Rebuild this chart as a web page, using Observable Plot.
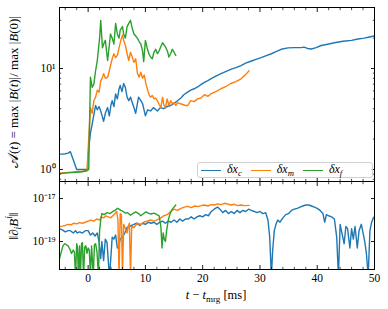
<!DOCTYPE html>
<html><head><meta charset="utf-8">
<script src="https://cdn.jsdelivr.net/npm/d3@7"></script>
<script src="https://cdn.jsdelivr.net/npm/@observablehq/plot@0.6"></script>
<style>
body{margin:0;background:#fff;}
#wrap{position:relative;width:388px;height:309px;font-family:"Liberation Serif",serif;color:#000;background:#fff;overflow:hidden;}
#wrap svg{position:absolute;left:0;}
.lab{position:absolute;white-space:nowrap;font-size:12.5px;line-height:1;}
.big{font-size:13px;}
.rot{transform:translate(-50%,-50%) rotate(-90deg);}
.ctr{transform:translate(-50%,-50%);}
sub,sup{font-size:72%;line-height:0;}
.cal{font-size:115%;}
#legend{position:absolute;left:197px;top:162px;width:174px;height:14px;border:1px solid #d0d0d0;border-radius:3px;background:rgba(255,255,255,0.85);display:flex;align-items:center;font-size:12px;}
#legend .it{display:flex;align-items:center;margin-left:3px;margin-right:6px;}
#legend .sw{display:inline-block;width:20px;height:0;border-top:1.5px solid;margin-right:6px;}
#legend .tx{line-height:1;position:relative;top:-1px;}
</style></head><body><div id="wrap"></div>
<script>
// ---- data ----
const seriesNames = ["δx_c", "δx_m", "δx_f"];
const seriesColors = ["#1f77b4", "#ff7f0e", "#2ca02c"];

// top panel: A(t) = max|B(t)| / max|B(0)|
const ampC = [[-5,1.42],[-4.5,1.42],[-4,1.43],[-3.5,1.45],[-3.1,1.5],[-2.6,1.25],[-2.0,1.0],[-1.5,1.0],[-1.0,1.0],[-0.5,1.0],[-0.1,1.0],[0.1,1.6],[0.4,2.3],[0.7,2.8],[1.0,3.5],[1.3,4.3],[1.6,3.9],[1.9,4.2],[2.2,3.8],[2.5,3.3],[2.7,3.0],[3.0,3.6],[3.4,4.1],[3.7,3.4],[4.0,4.4],[4.2,4.8],[4.5,4.2],[4.8,5.6],[5.1,5.0],[5.4,6.3],[5.6,6.8],[5.9,5.9],[6.2,7.1],[6.5,6.5],[6.8,5.2],[7.1,4.8],[7.4,5.2],[7.7,4.6],[8.0,4.1],[8.3,3.6],[8.8,5.2],[9.2,4.8],[9.5,4.5],[10.0,3.4],[10.4,3.9],[10.9,3.8],[11.4,4.1],[12.1,3.8],[12.6,4.1],[13.2,4.0],[13.8,4.2],[14.4,4.3],[15.0,4.5],[15.6,4.8],[16.2,5.1],[16.7,5.5],[17.3,5.8],[17.9,6.1],[18.5,6.3],[19.2,6.6],[19.8,7.0],[20.3,7.3],[20.9,7.6],[21.4,7.9],[22.3,8.4],[23.2,8.9],[24.0,9.3],[24.9,9.8],[25.8,10.2],[26.7,10.7],[27.5,11.3],[28.4,11.8],[29.3,12.3],[30.2,12.8],[31.1,13.4],[32.0,14.0],[32.8,14.7],[33.7,15.5],[34.9,16.0],[36.0,16.1],[37.2,16.1],[37.7,16.3],[38.3,15.8],[39.0,15.6],[39.8,16.1],[40.7,16.9],[41.8,17.4],[43.0,18.0],[44.5,18.6],[46.0,19.0],[47.1,19.6],[48.2,20.0],[49.1,20.5],[50.0,21.0]];
const ampM = [[-5,0.92],[-4,0.93],[-3,0.94],[-2,0.95],[-1,0.96],[-0.2,0.98],[0.1,2.0],[0.4,4.1],[0.7,3.6],[1.0,4.8],[1.3,5.2],[1.6,6.1],[1.9,5.8],[2.2,7.5],[2.5,8.2],[2.7,8.9],[3.0,8.0],[3.4,8.2],[3.7,9.5],[3.9,10.7],[4.2,12.5],[4.5,14.0],[4.8,12.8],[5.1,13.5],[5.4,16.0],[5.7,19.0],[6.0,21.5],[6.2,19.0],[6.5,17.0],[6.8,14.0],[7.1,12.0],[7.4,14.5],[7.7,13.0],[8.0,11.5],[8.3,12.5],[8.6,9.0],[8.9,8.2],[9.2,9.2],[9.5,8.0],[9.8,8.6],[10.1,7.0],[10.4,6.1],[10.7,5.4],[10.9,5.2],[11.2,5.4],[11.5,5.0],[11.8,5.1],[12.1,4.8],[12.4,4.4],[12.7,4.1],[13.0,5.2],[13.2,4.4],[13.5,4.1],[13.8,5.0],[14.1,4.3],[14.4,4.8],[14.7,4.5],[15.0,4.6],[15.3,4.3],[15.6,4.6],[16.0,4.5],[16.5,4.4],[17.0,4.3],[17.4,4.3],[17.9,4.8],[18.5,4.7],[19.1,5.0],[19.7,5.1],[20.3,5.5],[20.9,5.3],[21.4,5.6],[22.3,5.9],[23.2,6.3],[24.0,6.6],[24.9,7.1],[25.8,7.4],[26.7,7.9],[27.4,8.6],[28.1,9.5]];
const ampF = [[-5,0.91],[-4,0.92],[-3,0.93],[-2,0.94],[-1,0.95],[-0.2,0.97],[0.1,1.0],[0.4,8.2],[0.7,6.5],[1.0,7.0],[1.3,9.5],[1.6,12.0],[1.8,15.5],[2.0,20.0],[2.2,30.0],[2.5,16.0],[2.8,18.0],[3.0,19.0],[3.4,12.0],[3.7,17.0],[3.9,22.0],[4.2,20.0],[4.5,17.5],[4.8,28.0],[5.1,22.0],[5.4,20.0],[5.6,24.0],[6.0,26.0],[6.2,22.0],[6.5,20.0],[6.8,26.0],[7.1,28.0],[7.4,30.0],[7.7,25.0],[8.0,22.0],[8.3,21.0],[8.6,20.0],[8.9,18.5],[9.2,17.4],[9.5,15.0],[9.7,11.7],[10.0,19.0],[10.3,16.0],[10.6,14.0],[10.9,13.0],[11.2,12.5],[11.5,14.5],[11.8,15.5],[12.1,14.0],[12.4,15.0],[12.7,16.5],[13.0,18.0],[13.3,17.0],[13.6,16.0],[13.9,14.5],[14.1,13.0],[14.4,14.0],[14.7,15.5],[15.0,14.5],[15.3,13.5]];

// bottom panel: ||∂_i B^i||
const divC = [[-5,4.0e-19],[-4.5,3.5e-19],[-4,2.8e-19],[-3.5,3.2e-19],[-3.1,3.2e-19],[-2.6,2.5e-19],[-2.2,3.2e-19],[-1.9,2.5e-19],[-1.5,2.8e-19],[-1.0,2.5e-19],[-0.5,3.2e-19],[0,3.2e-19],[0.4,2.0e-19],[0.8,2.5e-19],[1.2,1.8e-19],[1.6,2.5e-19],[1.9,1.0e-19],[2.2,1.6e-20],[2.4,1.0e-19],[2.7,1.3e-20],[3.0,1.3e-19],[3.3,8.9e-20],[3.7,2.5e-21],[3.9,1.0e-20],[4.2,1.6e-19],[4.5,1.3e-19],[4.8,2.0e-19],[5.1,5.0e-20],[5.3,5.6e-20],[5.6,1.3e-19],[6.0,1.6e-19],[6.4,2.5e-19],[6.8,4.5e-19],[7.2,5.0e-19],[7.6,5.6e-19],[8.0,6.3e-19],[8.5,7.1e-19],[9.0,5.6e-19],[9.5,7.1e-19],[10.0,6.3e-19],[10.5,7.9e-19],[11.0,7.1e-19],[11.5,7.9e-19],[12.0,6.3e-19],[12.5,7.9e-19],[13.0,8.9e-19],[13.5,7.1e-19],[14.0,8.9e-19],[14.5,7.9e-19],[15.0,1.0e-18],[15.5,7.9e-19],[16.0,1.12e-18],[16.5,8.9e-19],[17.0,1.12e-18],[17.5,1.12e-18],[18.0,1.41e-18],[18.5,1.12e-18],[19.0,1.41e-18],[19.5,1.58e-18],[20.0,1.41e-18],[20.5,1.78e-18],[21.0,1.58e-18],[21.5,2.5e-18],[22.0,3.2e-18],[22.6,4.0e-18],[23.0,3.2e-18],[23.5,2.2e-18],[24.0,2.8e-18],[24.5,2.0e-18],[25.0,2.5e-18],[25.5,2.0e-18],[26.0,2.8e-18],[26.5,2.2e-18],[27.0,2.8e-18],[27.5,2.5e-18],[28.0,3.2e-18],[28.5,2.8e-18],[29.0,2.5e-18],[29.5,2.2e-18],[30.0,2.5e-18],[30.5,2.0e-18],[31.0,2.2e-18],[31.4,1.0e-18],[31.7,1.6e-19],[32.0,2.5e-21],[32.2,3.2e-20],[32.5,3.2e-19],[32.8,6.3e-19],[33.1,1.0e-18],[33.5,7.9e-19],[34.0,1.26e-18],[34.5,1.78e-18],[35.0,2.0e-18],[35.5,2.8e-18],[36.0,3.2e-18],[36.5,3.5e-18],[37.0,4.0e-18],[37.5,4.5e-18],[38.0,5.0e-18],[38.5,5.0e-18],[39.0,4.5e-18],[39.5,4.0e-18],[40.0,3.5e-18],[40.5,2.8e-18],[41.0,2.0e-18],[41.3,7.9e-19],[41.6,1.78e-18],[42.0,1.58e-18],[42.5,1.41e-18],[43.0,1.12e-18],[43.4,1.6e-19],[43.7,2.5e-21],[44.0,6.3e-19],[44.3,2.5e-19],[44.7,7.9e-20],[45.0,5.0e-19],[45.3,4.0e-19],[45.7,5.0e-20],[46.0,4.0e-19],[46.3,1.3e-19],[46.6,5.0e-19],[47.0,5.0e-20],[47.3,3.2e-19],[47.7,6.3e-19],[48.0,2.5e-19],[48.3,1.0e-19],[48.6,2.5e-20],[48.9,2.5e-21],[49.2,3.2e-19],[49.5,7.9e-19],[49.8,1.26e-18],[50.0,1.41e-18]];
const divM = [[-5,5.0e-19],[-4.5,5.2e-19],[-4,5.6e-19],[-3.5,6.3e-19],[-3,6.0e-19],[-2.5,7.1e-19],[-2,6.6e-19],[-1.5,7.6e-19],[-1,7.1e-19],[-0.5,7.9e-19],[0,8.9e-19],[0.5,1.0e-18],[1.0,8.9e-19],[1.5,1.12e-18],[2.0,1.0e-18],[2.3,1.41e-18],[2.7,1.26e-18],[3.1,1.58e-18],[3.5,1.41e-18],[3.9,1.26e-18],[4.3,1.58e-18],[4.7,2.0e-18],[5.0,2.5e-18],[5.2,1.0e-18],[5.4,2.5e-21],[5.6,2.0e-18],[5.8,1.78e-18],[6.0,2.5e-21],[6.2,6.3e-19],[6.5,4.0e-19],[6.8,2.5e-19],[7.0,5.0e-19],[7.2,7.1e-19],[7.4,2.5e-21],[7.6,5.0e-19],[8.0,4.5e-19],[8.6,7.1e-19],[9.2,6.3e-19],[9.7,7.9e-19],[10.3,8.9e-19],[10.9,1.0e-18],[11.5,8.9e-19],[12.1,1.05e-18],[12.7,1.26e-18],[13.2,1.58e-18],[13.8,1.78e-18],[14.4,2.5e-18],[15.0,3.2e-18],[15.6,2.8e-18],[16.2,3.5e-18],[16.8,4.0e-18],[17.4,4.3e-18],[18.0,3.8e-18],[18.6,4.5e-18],[19.2,4.2e-18],[19.7,4.7e-18],[20.3,5.0e-18],[20.9,4.5e-18],[21.5,5.2e-18],[22.0,5.0e-18],[22.6,5.6e-18],[23.2,5.2e-18],[23.8,6.0e-18],[24.3,5.6e-18],[24.9,5.0e-18],[25.5,5.4e-18],[26.1,4.7e-18],[26.7,5.0e-18],[27.3,4.7e-18],[28.1,4.8e-18]];
const divF = [[-5,1.6e-20],[-4.7,3.2e-20],[-4.4,6.3e-20],[-4.1,7.9e-20],[-3.8,7.1e-20],[-3.5,6.3e-20],[-3.2,4.5e-20],[-2.9,2.8e-20],[-2.6,4.0e-20],[-2.4,3.2e-20],[-2.2,2.5e-21],[-2.0,7.9e-20],[-1.85,5.0e-20],[-1.7,2.5e-21],[-1.5,6.3e-20],[-1.35,2.5e-21],[-1.15,7.9e-20],[-1.0,8.9e-20],[-0.8,2.5e-21],[-0.6,5.6e-20],[-0.4,6.3e-20],[-0.2,2.8e-20],[0.0,5.0e-20],[0.2,4.0e-20],[0.4,2.5e-21],[0.6,6.3e-20],[0.9,2.5e-21],[1.1,7.1e-20],[1.3,7.9e-20],[1.55,3.2e-20],[1.8,2.5e-21],[2.0,3.2e-19],[2.2,1.0e-18],[2.4,2.0e-18],[2.8,1.78e-18],[3.3,2.2e-18],[3.8,2.0e-18],[4.3,2.5e-18],[4.7,2.8e-18],[5.1,3.5e-18],[5.4,3.2e-18],[5.7,2.8e-18],[6.1,2.5e-18],[6.5,2.1e-18],[6.9,2.2e-18],[7.4,1.66e-18],[7.8,2.0e-18],[8.3,2.4e-18],[8.8,2.0e-18],[9.2,1.58e-18],[9.7,2.0e-18],[10.1,2.4e-18],[10.5,2.1e-18],[11.0,1.9e-18],[11.5,2.1e-18],[12.0,1.78e-18],[12.4,1.58e-18],[12.7,5.0e-19],[12.9,5.0e-20],[13.1,2.5e-19],[13.3,1.26e-19],[13.5,1.0e-19],[13.7,3.2e-19],[14.0,1.0e-18],[14.3,2.0e-18],[14.7,3.2e-18],[15.0,4.0e-18],[15.3,5.0e-18]];

// ticks
const xDomain = [-5, 50];
const xMajor = [0, 10, 20, 30, 40, 50];
const xMajorLabels = ["0", "10", "20", "30", "40", "50"];
const xMinor = [-4, -2, 2, 4, 6, 8, 12, 14, 16, 18, 22, 24, 26, 28, 32, 34, 36, 38, 42, 44, 46, 48];
const topDomain = [0.76, 40.2];
const topMajor = [1, 10];
const topMajorLabels = ["10⁰", "10¹"];
const topMinor = [0.8, 0.9, 2, 3, 4, 5, 6, 7, 8, 9, 20, 30];
const botDomain = [5.0e-21, 6.2e-17];
const botMajor = [1e-19, 1e-17];
const botMajorLabels = ["10⁻¹⁹", "10⁻¹⁷"];

// ---- drawing ----
const W = 388, ML = 59, MR = 14;
const K = "black";
function inTicksX(ticks, size, sw) {
  return [
    Plot.axisX(ticks, {anchor: "bottom", tickSize: size, dy: -size, fill: "none", label: null, stroke: K, strokeWidth: sw}),
    Plot.axisX(ticks, {anchor: "top", tickSize: size, dy: size, fill: "none", label: null, stroke: K, strokeWidth: sw})
  ];
}
function inTicksY(ticks, size, sw) {
  return [
    Plot.axisY(ticks, {anchor: "left", tickSize: size, dx: size, fill: "none", label: null, stroke: K, strokeWidth: sw}),
    Plot.axisY(ticks, {anchor: "right", tickSize: size, dx: -size, fill: "none", label: null, stroke: K, strokeWidth: sw})
  ];
}
function seriesLines(sets) {
  return sets.map((d, i) => Plot.line(d, {x: p => p[0], y: p => p[1], stroke: seriesColors[i], strokeWidth: 1.4, clip: true}));
}
const st = {background: "transparent", fontFamily: "Liberation Serif", fontSize: "11.5px", color: "black"};

const topPlot = Plot.plot({
  width: W, height: 182,
  marginLeft: ML, marginRight: MR, marginTop: 7, marginBottom: 1,
  style: st,
  x: {domain: xDomain},
  y: {type: "log", domain: topDomain},
  marks: [
    ...seriesLines([ampC, ampM, ampF]),
    ...inTicksX(xMajor, 4, 0.9),
    ...inTicksX(xMinor, 2.2, 0.7),
    ...inTicksY(topMajor, 4, 0.9),
    ...inTicksY(topMinor, 2.2, 0.7),
    Plot.axisY(topMajor, {anchor: "left", tickSize: 0, tickPadding: 4, label: null, fill: K, tickFormat: d => topMajorLabels[topMajor.indexOf(d)]}),
    Plot.frame({stroke: K, strokeWidth: 1})
  ]
});

const botPlot = Plot.plot({
  width: W, height: 133,
  marginLeft: ML, marginRight: MR, marginTop: 5, marginBottom: 40,
  style: st,
  x: {domain: xDomain},
  y: {type: "log", domain: botDomain},
  marks: [
    ...seriesLines([divC, divM, divF]),
    ...inTicksX(xMajor, 4, 0.9),
    ...inTicksX(xMinor, 2.2, 0.7),
    ...inTicksY(botMajor, 4, 0.9),
    Plot.axisY(botMajor, {anchor: "left", tickSize: 0, tickPadding: 4, label: null, fill: K, tickFormat: d => botMajorLabels[botMajor.indexOf(d)]}),
    Plot.axisX(xMajor, {anchor: "bottom", tickSize: 0, tickPadding: 4, label: null, fill: K, tickFormat: d => xMajorLabels[xMajor.indexOf(d)]}),
    Plot.frame({stroke: K, strokeWidth: 1})
  ]
});

const wrap = document.getElementById("wrap");
botPlot.style.top = "176px";
topPlot.style.top = "0px";
wrap.appendChild(botPlot);
wrap.appendChild(topPlot);

function addLabel(html, x, y, cls) {
  const d = document.createElement("div");
  d.className = "lab " + cls;
  d.style.left = x + "px";
  d.style.top = y + "px";
  d.innerHTML = html;
  wrap.appendChild(d);
}
addLabel('<span class="cal">𝒜</span>(<i>t</i>) = max |<i>B</i>(<i>t</i>)|/ max |<i>B</i>(0)|', 13, 92, "rot big");
addLabel('‖∂<sub><i>i</i></sub><i>B</i><sup><i>i</i></sup>‖', 13, 226, "rot big");
addLabel('<i>t</i> − <i>t</i><sub>mrg</sub> [ms]', 216, 295, "ctr");

const lg = document.createElement("div");
lg.id = "legend";
const subs = ["c", "m", "f"];
lg.innerHTML = seriesNames.map((n, i) =>
  `<span class="it"><span class="sw" style="border-color:${seriesColors[i]}"></span><span class="tx"><i>δx</i><sub><i>${subs[i]}</i></sub></span></span>`).join("");
wrap.appendChild(lg);
</script></body></html>
